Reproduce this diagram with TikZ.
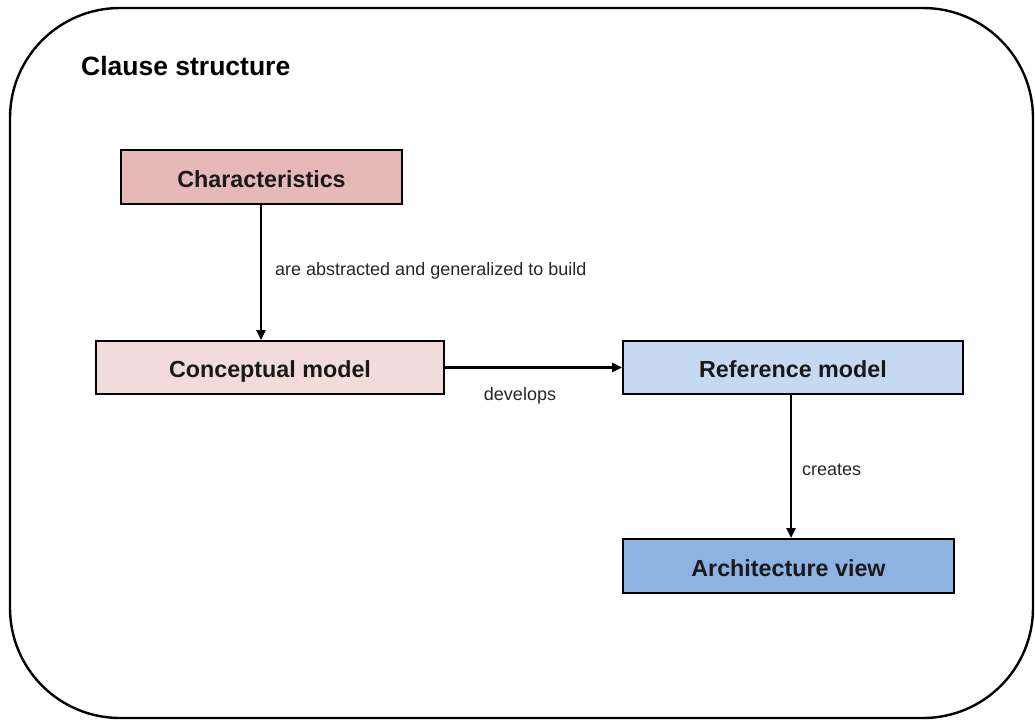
\documentclass[tikz,border=0pt]{standalone}
\usepackage{fontspec}
\setmainfont{Liberation Sans}
\usetikzlibrary{arrows.meta}
\definecolor{charfill}{HTML}{E6B8B7}
\definecolor{concfill}{HTML}{F2DCDB}
\definecolor{reffill}{HTML}{C6D9F1}
\definecolor{archfill}{HTML}{8DB3E2}
\definecolor{labelgray}{HTML}{262626}
\tikzset{
  box/.style={draw=black, line width=2pt, inner sep=0pt, anchor=north west,
    font=\fontsize{23.3}{26}\selectfont\bfseries, text=black!90,
    text depth=0pt, text height=20.5pt},
  conn/.style={draw=black, line width=2.4pt, -{Triangle[length=10pt,width=9pt]}},
  lbl/.style={font=\fontsize{18}{21}\selectfont, text=labelgray, inner sep=0pt},
  frame/.style={draw=black, line width=2.4pt, rounded corners=110pt}
}
\begin{document}
\begin{tikzpicture}[x=1pt,y=-1pt]
\useasboundingbox (0,0) rectangle (1035,720);
\draw[frame] (10,8) rectangle (1033,718);
\node[anchor=west, font=\fontsize{26.5}{30}\selectfont\bfseries, inner sep=0pt] (title) at (81,66) {Clause structure};

\node[box, fill=charfill, minimum width=281pt, minimum height=54pt] (char) at (120,149) {Characteristics};
\node[box, fill=concfill, minimum width=348pt, minimum height=53pt] (conc) at (95,340) {Conceptual model};
\node[box, fill=reffill, minimum width=340pt, minimum height=53pt] (ref) at (622,340) {Reference model};
\node[box, fill=archfill, minimum width=331pt, minimum height=54pt] (arch) at (622,538) {Architecture view};

\draw[conn] (char.south -| 261,0) -- (conc.north -| 261,0);
\draw[conn] (conc.east) -- (ref.west);
\draw[conn] (ref.south -| 791,0) -- (arch.north -| 791,0);

\node[lbl, anchor=west] (l1) at (275,271) {are abstracted and generalized to build};
\node[lbl] (l2) at (520,396) {develops};
\node[lbl, anchor=west] (l3) at (802,470) {creates};
\end{tikzpicture}
\end{document}
